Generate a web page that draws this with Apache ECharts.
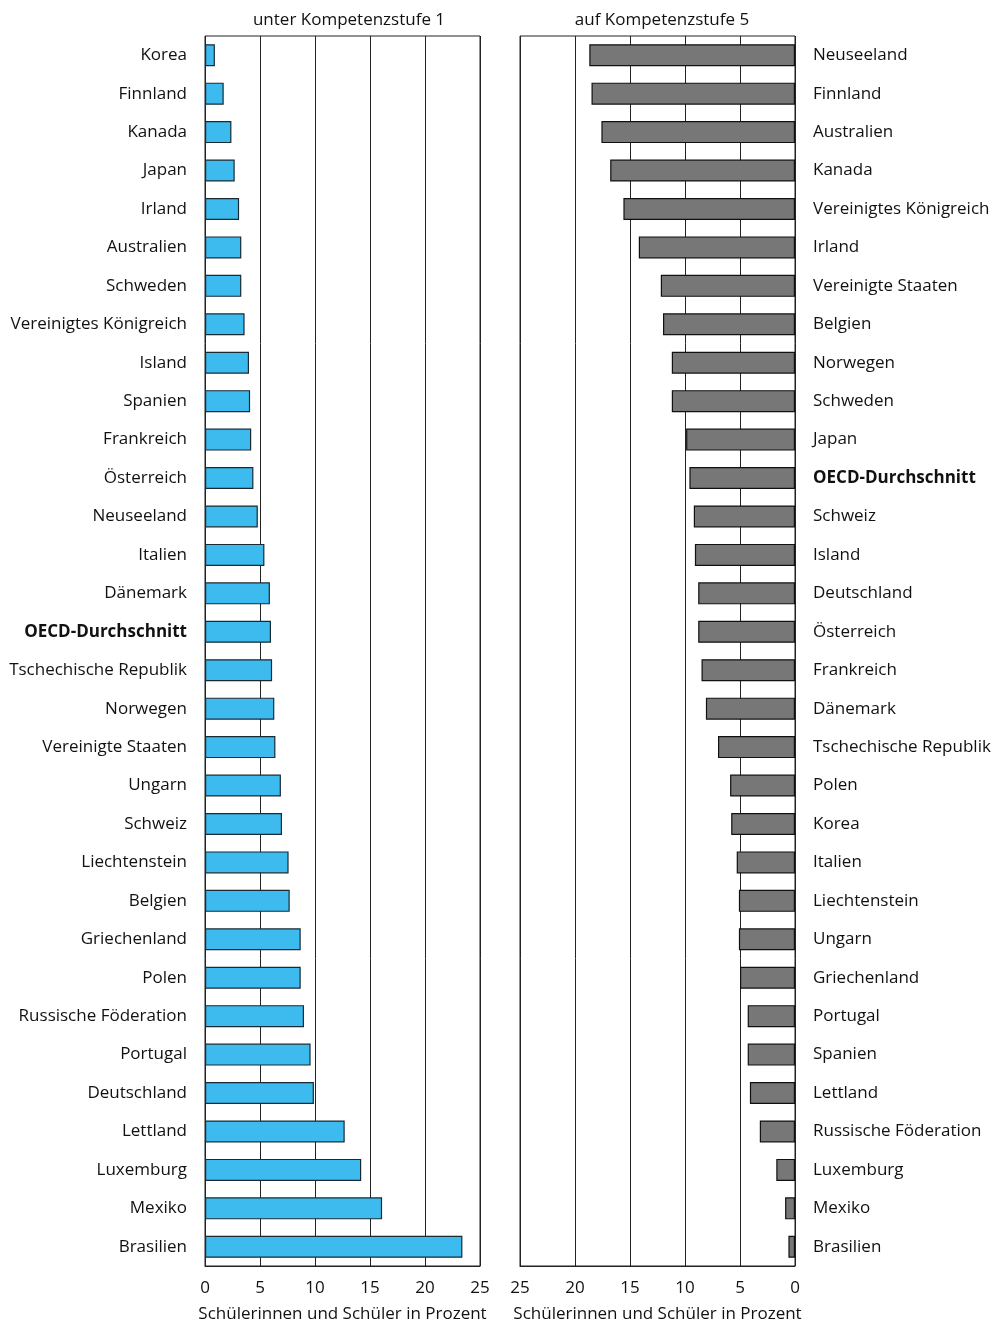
<!DOCTYPE html>
<html><head><meta charset="utf-8">
<script src="https://cdn.jsdelivr.net/npm/echarts@6/dist/echarts.min.js"></script>
<style>html,body{margin:0;padding:0;background:#fff}#c{width:993px;height:1324px}</style>
</head><body><div id="c"></div>
<script>
const leftCategories = ["Korea","Finnland","Kanada","Japan","Irland","Australien","Schweden","Vereinigtes Königreich","Island","Spanien","Frankreich","Österreich","Neuseeland","Italien","Dänemark","OECD-Durchschnitt","Tschechische Republik","Norwegen","Vereinigte Staaten","Ungarn","Schweiz","Liechtenstein","Belgien","Griechenland","Polen","Russische Föderation","Portugal","Deutschland","Lettland","Luxemburg","Mexiko","Brasilien"];
const leftValues = [0.9,1.7,2.4,2.7,3.1,3.3,3.3,3.6,4.0,4.1,4.2,4.4,4.8,5.4,5.9,6.0,6.1,6.3,6.4,6.9,7.0,7.6,7.7,8.7,8.7,9.0,9.6,9.9,12.7,14.2,16.1,23.4];
const rightCategories = ["Neuseeland","Finnland","Australien","Kanada","Vereinigtes Königreich","Irland","Vereinigte Staaten","Belgien","Norwegen","Schweden","Japan","OECD-Durchschnitt","Schweiz","Island","Deutschland","Österreich","Frankreich","Dänemark","Tschechische Republik","Polen","Korea","Italien","Liechtenstein","Ungarn","Griechenland","Portugal","Spanien","Lettland","Russische Föderation","Luxemburg","Mexiko","Brasilien"];
const rightValues = [18.7,18.5,17.6,16.8,15.6,14.2,12.2,12.0,11.2,11.2,9.9,9.6,9.2,9.1,8.8,8.8,8.5,8.1,7.0,5.9,5.8,5.3,5.1,5.1,5.0,4.3,4.3,4.1,3.2,1.7,0.9,0.6];
const xTicks = [0,5,10,15,20,25];
const titleLeft = "unter Kompetenzstufe 1";
const titleRight = "auf Kompetenzstufe 5";
const axisName = "Schülerinnen und Schüler in Prozent";

const FONT = "Open Sans";
const lineColor = "#222";
const labelFmt = v => v === "OECD-Durchschnitt" ? "{b|" + v + "}" : v;
const labelRich = {b:{fontWeight:"bold",fontSize:17,fontFamily:FONT,color:"#111"}};

function xAx(gridIndex, inverse){
  return {
    type:"value", gridIndex, min:xTicks[0], max:xTicks[xTicks.length-1], interval:5, inverse,
    axisLine:{show:true,lineStyle:{color:lineColor,width:1}},
    axisTick:{show:false},
    splitLine:{show:true,lineStyle:{color:lineColor,width:1}},
    axisLabel:{fontFamily:FONT,fontSize:17,color:"#111",margin:14},
    name:axisName, nameLocation:"middle", nameGap:40,
    nameTextStyle:{fontFamily:FONT,fontSize:17,color:"#111"}
  };
}
function yAx(gridIndex, data, position){
  return {
    type:"category", gridIndex, data, inverse:true, position,
    axisLine:{show:false}, axisTick:{show:false}, splitLine:{show:false},
    axisLabel:{fontFamily:FONT,fontSize:17,color:"#111",margin:18,formatter:labelFmt,rich:labelRich}
  };
}
const chart = echarts.init(document.getElementById("c"), null, {renderer:"canvas"});
chart.setOption({
  animation:false,
  backgroundColor:"#fff",
  title:[
    {text:titleLeft,left:344,top:7,textAlign:"center",textStyle:{fontFamily:FONT,fontSize:17,fontWeight:"normal",color:"#111"}},
    {text:titleRight,left:657,top:7,textAlign:"center",textStyle:{fontFamily:FONT,fontSize:17,fontWeight:"normal",color:"#111"}}
  ],
  grid:[
    {left:205,top:36,width:275,height:1230,show:true,borderColor:lineColor,borderWidth:1,backgroundColor:"transparent",containLabel:false,outerBoundsMode:"none"},
    {left:520,top:36,width:275,height:1230,show:true,borderColor:lineColor,borderWidth:1,backgroundColor:"transparent",containLabel:false,outerBoundsMode:"none"}
  ],
  xAxis:[xAx(0,false), xAx(1,true)],
  yAxis:[yAx(0,leftCategories,"left"), yAx(1,rightCategories,"right")],
  series:[
    {type:"bar",xAxisIndex:0,yAxisIndex:0,data:leftValues,barWidth:22,
     itemStyle:{color:"#3dbbee",borderColor:"#1a2a33",borderWidth:1.2}},
    {type:"bar",xAxisIndex:1,yAxisIndex:1,data:rightValues,barWidth:22,
     itemStyle:{color:"#777777",borderColor:"#111",borderWidth:1.2}}
  ]
});
</script></body></html>
